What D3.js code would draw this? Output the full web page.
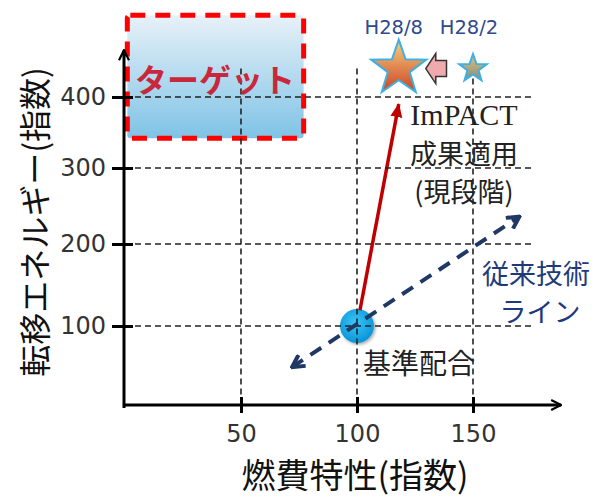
<!DOCTYPE html>
<html><head><meta charset="utf-8">
<script src="https://cdn.jsdelivr.net/npm/d3@7"></script>
<style>body{margin:0;background:#fff} svg{display:block}</style>
</head><body>
<svg id="chart" width="601" height="499"></svg>
<script>
// Axis ticks
const xTicks = [50, 100, 150];
const yTicks = [100, 200, 300, 400];
// Milestone stars (fuel index, transfer-energy index)
const milestoneNames = ["H28/8", "H28/2"];
const milestoneFuel = [118, 150];
const milestoneEnergy = [440, 440];
// Reference compound
const baseFuel = 100, baseEnergy = 100;
// ImPACT result arrow
const impactFuel = [100, 118];
const impactEnergy = [100, 390];
// Conventional technology line
const conventionalFuel = [72, 170];
const conventionalEnergy = [48, 236];
// Target region
const targetFuel = [1, 77];
const targetEnergy = [342, 515];
// Extents of grid and axes
const gridMaxFuel = 175, gridMaxEnergy = 440;
const axisMaxFuel = 188, axisMaxEnergy = 466;

const svg = d3.select("#chart");
const x = d3.scaleLinear().domain([0, 150]).range([125, 473]);
const y = d3.scaleLinear().domain([0, 100, 200, 300, 400]).range([405, 326, 244, 168, 97]);

const CJK = "'Noto Sans CJK JP','Noto Sans',sans-serif";
const defs = svg.append("defs");

// gradients
const tg = defs.append("linearGradient").attr("id", "targetFill").attr("x1", 0).attr("y1", 0).attr("x2", 0).attr("y2", 1);
tg.append("stop").attr("offset", "0%").attr("stop-color", "#e8f1f8");
tg.append("stop").attr("offset", "100%").attr("stop-color", "#7fc3e6");

const sg = defs.append("linearGradient").attr("id", "starBig").attr("x1", 0).attr("y1", 0).attr("x2", 0).attr("y2", 1);
sg.append("stop").attr("offset", "0%").attr("stop-color", "#f8d27e");
sg.append("stop").attr("offset", "100%").attr("stop-color", "#cc4327");
const ss = defs.append("linearGradient").attr("id", "starSmall").attr("x1", 0).attr("y1", 0).attr("x2", 0).attr("y2", 1);
ss.append("stop").attr("offset", "0%").attr("stop-color", "#eec06a");
ss.append("stop").attr("offset", "100%").attr("stop-color", "#7f8d86");

const cg = defs.append("radialGradient").attr("id", "baseFill").attr("cx", "45%").attr("cy", "40%").attr("r", "60%");
cg.append("stop").attr("offset", "0%").attr("stop-color", "#3cc6f7");
cg.append("stop").attr("offset", "100%").attr("stop-color", "#0894d8");

const sh = defs.append("filter").attr("id", "shadow").attr("x", "-30%").attr("y", "-30%").attr("width", "160%").attr("height", "160%");
sh.append("feDropShadow").attr("dx", 1.5).attr("dy", 1.5).attr("stdDeviation", 1.5).attr("flood-color", "#000").attr("flood-opacity", 0.35);

// arrow markers
defs.append("marker").attr("id", "openArrow").attr("viewBox", "0 0 12 12").attr("refX", 11).attr("refY", 6)
  .attr("markerWidth", 12).attr("markerHeight", 12).attr("markerUnits", "userSpaceOnUse").attr("orient", "auto")
  .append("path").attr("d", "M1,1 L11,6 L1,11").attr("fill", "none").attr("stroke", "#000").attr("stroke-width", 2.2);
defs.append("marker").attr("id", "navyArrow").attr("viewBox", "0 0 16 16").attr("refX", 14).attr("refY", 8)
  .attr("markerWidth", 16).attr("markerHeight", 16).attr("markerUnits", "userSpaceOnUse").attr("orient", "auto-start-reverse")
  .append("path").attr("d", "M2,1.5 L14,8 L2,14.5").attr("fill", "none").attr("stroke", "#1f3864").attr("stroke-width", 4);
defs.append("marker").attr("id", "redArrow").attr("viewBox", "0 0 14 14").attr("refX", 13).attr("refY", 7)
  .attr("markerWidth", 14).attr("markerHeight", 14).attr("markerUnits", "userSpaceOnUse").attr("orient", "auto")
  .append("path").attr("d", "M0,1 L14,7 L0,13 Z").attr("fill", "#c00000");

// target region
const tx0 = x(targetFuel[0]), tx1 = x(targetFuel[1]);
const ty0 = y(targetEnergy[1]), ty1 = y(targetEnergy[0]);
svg.append("rect").attr("x", tx0).attr("y", ty0).attr("width", tx1 - tx0).attr("height", ty1 - ty0)
  .attr("rx", 3).attr("fill", "url(#targetFill)")
  .attr("stroke", "#ff0000").attr("stroke-width", 5).attr("stroke-dasharray", "15 10");

// reference compound circle
svg.append("circle").attr("cx", x(baseFuel)).attr("cy", y(baseEnergy)).attr("r", 17)
  .attr("fill", "url(#baseFill)").attr("filter", "url(#shadow)");

// ImPACT arrow (starts at the circle edge)
const ia = { x0: x(impactFuel[0]), y0: y(impactEnergy[0]), x1: x(impactFuel[1]), y1: y(impactEnergy[1]) };
const len = Math.hypot(ia.x1 - ia.x0, ia.y1 - ia.y0);
const ux = (ia.x1 - ia.x0) / len, uy = (ia.y1 - ia.y0) / len;
svg.append("line").attr("x1", ia.x0 + ux * 16).attr("y1", ia.y0 + uy * 16).attr("x2", ia.x1).attr("y2", ia.y1)
  .attr("stroke", "#c00000").attr("stroke-width", 3.5).attr("marker-end", "url(#redArrow)");

// grid
const grid = svg.append("g").attr("stroke", "#222").attr("stroke-width", 1.6).attr("stroke-dasharray", "6 4");
grid.selectAll(".h").data(yTicks).join("line")
  .attr("x1", x(0)).attr("x2", x(gridMaxFuel)).attr("y1", d => y(d)).attr("y2", d => y(d));
grid.selectAll(".v").data(xTicks).join("line")
  .attr("y1", y(gridMaxEnergy)).attr("y2", y(0)).attr("x1", d => x(d)).attr("x2", d => x(d));

// conventional technology line
svg.append("line")
  .attr("x1", x(conventionalFuel[0])).attr("y1", y(conventionalEnergy[0]))
  .attr("x2", x(conventionalFuel[1])).attr("y2", y(conventionalEnergy[1]))
  .attr("stroke", "#1f3864").attr("stroke-width", 4).attr("stroke-dasharray", "13 9")
  .attr("marker-start", "url(#navyArrow)").attr("marker-end", "url(#navyArrow)");

// stars
const starRadius = [29, 14.5];
function starPath(R) {
  const pts = d3.range(10).map(i => [i * Math.PI / 5, i % 2 ? R * 0.4 : R]);
  return d3.lineRadial().curve(d3.curveLinearClosed)(pts);
}
milestoneNames.forEach((name, i) => {
  const cx = x(milestoneFuel[i]), cy = y(milestoneEnergy[i]);
  svg.append("path").attr("d", starPath(starRadius[i])).attr("transform", `translate(${cx},${cy})`)
    .attr("fill", i === 0 ? "url(#starBig)" : "url(#starSmall)")
    .attr("stroke", "#3eb0e2").attr("stroke-width", 2).attr("stroke-linejoin", "miter");
  svg.append("text").attr("x", cx - (i === 0 ? 5 : 4)).attr("y", 27).attr("text-anchor", "middle")
    .attr("dominant-baseline", "central").attr("font-family", "'DejaVu Sans',sans-serif").attr("font-size", 19.5)
    .attr("fill", "#2f4a8c").text(name);
});

// block arrow from H28/2 to H28/8
{
  const ax0 = x(milestoneFuel[0]) + starRadius[0] - 2, ax1 = x(milestoneFuel[1]) - starRadius[1] - 12;
  const ay = y(milestoneEnergy[0]);
  const head = 10;
  const p = d3.path();
  p.moveTo(ax0, ay);
  p.lineTo(ax0 + head, ay - 15);
  p.lineTo(ax0 + head, ay - 8);
  p.lineTo(ax1, ay - 8);
  p.lineTo(ax1, ay + 8);
  p.lineTo(ax0 + head, ay + 8);
  p.lineTo(ax0 + head, ay + 15);
  p.closePath();
  svg.append("path").attr("d", p.toString()).attr("fill", "#efaaae").attr("stroke", "#333").attr("stroke-width", 1.5)
    .attr("stroke-linejoin", "miter");
}

// axes
svg.append("line").attr("x1", x(0) - 1).attr("x2", x(0) - 1).attr("y1", y(0) + 3).attr("y2", y(axisMaxEnergy))
  .attr("stroke", "#000").attr("stroke-width", 3).attr("marker-end", "url(#openArrow)");
svg.append("line").attr("x1", x(0) - 2).attr("x2", x(axisMaxFuel)).attr("y1", y(0)).attr("y2", y(0))
  .attr("stroke", "#000").attr("stroke-width", 3).attr("marker-end", "url(#openArrow)");

const yAxis = svg.append("g").attr("transform", `translate(${x(0) - 1},0)`)
  .call(d3.axisLeft(y).tickValues(yTicks).tickSize(12).tickPadding(6));
yAxis.select(".domain").remove();
yAxis.selectAll(".tick line").attr("x1", 9).attr("stroke", "#000").attr("stroke-width", 3);
yAxis.selectAll(".tick text").attr("font-family", "'DejaVu Sans',sans-serif").attr("font-size", 24).attr("fill", "#333");

const xAxis = svg.append("g").attr("transform", `translate(0,${y(0)})`)
  .call(d3.axisBottom(x).tickValues(xTicks).tickSize(8).tickPadding(12));
xAxis.select(".domain").remove();
xAxis.selectAll(".tick line").attr("y1", -8).attr("stroke", "#000").attr("stroke-width", 3);
xAxis.selectAll(".tick text").attr("font-family", "'DejaVu Sans',sans-serif").attr("font-size", 24).attr("fill", "#333");

// annotations
function label(t, px, py, size, color, anchor, family) {
  return svg.append("text").attr("x", px).attr("y", py).attr("text-anchor", anchor || "middle")
    .attr("dominant-baseline", "central").attr("font-family", family || CJK)
    .attr("font-size", size).attr("fill", color).text(t);
}
label("ターゲット", 215, 78, 32, "#c8283c").attr("font-weight", "bold");
label("ImPACT", 464, 114, 30, "#222", "middle", "'Liberation Serif',serif");
label("成果適用", 464, 152, 27, "#222");
label("(現段階)", 464, 190, 27, "#222");
label("基準配合", 419, 362, 28, "#222");
label("従来技術", 536, 272, 27, "#1f3a7a");
label("ライン", 540, 310, 27, "#1f3a7a");

// axis titles
svg.append("text").attr("x", 355).attr("y", 488).attr("text-anchor", "middle")
  .attr("font-family", CJK).attr("font-size", 34).attr("fill", "#111").text("燃費特性(指数)");
svg.append("text").attr("transform", "translate(33,222) rotate(-90)").attr("text-anchor", "middle")
  .attr("dominant-baseline", "central").attr("font-family", CJK).attr("font-size", 32).attr("fill", "#111")
  .text("転移エネルギー(指数)");
</script>
</body></html>
